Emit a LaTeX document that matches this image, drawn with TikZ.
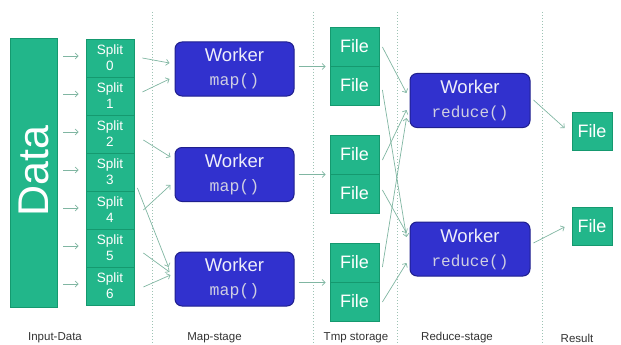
\documentclass[tikz,border=0pt]{standalone}
\usepackage{fontspec}
\setmainfont{Liberation Sans}
\newfontfamily\codefont{Liberation Mono}
\usetikzlibrary{arrows.meta,calc}
\definecolor{grn}{HTML}{22B68A}
\definecolor{grnd}{HTML}{15996F}
\definecolor{wblue}{HTML}{3131CE}
\definecolor{wbluedark}{HTML}{1F1F8E}
\definecolor{wtext}{HTML}{EEEEFA}
\definecolor{mtext}{HTML}{CFCFE2}
\definecolor{arrc}{HTML}{80B6A2}
\definecolor{dotc}{HTML}{9DC3B4}
\definecolor{labc}{HTML}{333333}
\begin{document}
\begin{tikzpicture}[x=1pt,y=-1pt,
  greenbox/.style={draw=grnd, fill=grn, line width=0.8pt, inner sep=0pt, text=white},
  databox/.style={greenbox, minimum width=47pt, minimum height=269pt},
  splitbox/.style={greenbox, minimum width=48pt, minimum height=38pt, align=center, font=\fontsize{13.5}{16}\selectfont},
  tmpfile/.style={greenbox, minimum width=49pt, minimum height=39pt, font=\fontsize{18}{20}\selectfont},
  resfile/.style={greenbox, minimum width=40pt, minimum height=38pt, font=\fontsize{18}{20}\selectfont},
  worker/.style={draw=wbluedark, fill=wblue, line width=1pt, rounded corners=7pt, minimum height=54pt, inner sep=0pt, align=center, text=wtext, font=\fontsize{18.5}{24}\selectfont},
  mapworker/.style={worker, minimum width=119pt},
  redworker/.style={worker, minimum width=120pt},
  arr/.style={draw=arrc, line width=0.7pt, -{Straight Barb[length=3pt,width=6pt]}},
  dots/.style={draw=dotc, line width=1pt, dash pattern=on 1pt off 2pt},
  lab/.style={text=labc, font=\fontsize{11.5}{13}\selectfont}
]
\useasboundingbox (0,0) rectangle (621,345);
% dotted stage separators
\foreach \xx in {152,313,397,542}{
  \draw[dots] (\xx,12) -- (\xx,345);
}
% data
\node[databox] (data) at (33.5,172.5) {};
\node[rotate=90, text=white, font=\fontsize{43}{45}\selectfont] (datatext) at (33.5,171) {Data};
% splits
\foreach \k in {0,...,6}{
  \node[splitbox] (s\k) at (110,{58+38*\k}) {Split\\\k};
}
% map workers
\node[mapworker] (m1) at (234.5,69) {Worker\\{\codefont\fontsize{16.5}{16}\selectfont\color{mtext}map()}};
\node[mapworker] (m2) at (234.5,174.5) {Worker\\{\codefont\fontsize{16.5}{16}\selectfont\color{mtext}map()}};
\node[mapworker] (m3) at (234.5,279) {Worker\\{\codefont\fontsize{16.5}{16}\selectfont\color{mtext}map()}};
% tmp files
\node[tmpfile] (t1) at (354.5,46.5) {File};
\node[tmpfile] (t2) at (354.5,85.5) {File};
\node[tmpfile] (t3) at (354.5,154.5) {File};
\node[tmpfile] (t4) at (354.5,193.5) {File};
\node[tmpfile] (t5) at (354.5,262.5) {File};
\node[tmpfile] (t6) at (354.5,301.5) {File};
% reduce workers
\node[redworker] (r1) at (470,100.5) {Worker\\{\codefont\fontsize{16}{16}\selectfont\color{mtext}reduce()}};
\node[redworker] (r2) at (470,249) {Worker\\{\codefont\fontsize{16}{16}\selectfont\color{mtext}reduce()}};
% results
\node[resfile] (f1) at (592,131) {File};
\node[resfile] (f2) at (592,226) {File};
% labels
\node[lab] (l1) at (55,338) {Input-Data};
\node[lab] (l2) at (214.5,338) {Map-stage};
\node[lab] (l3) at (356,338) {Tmp storage};
\node[lab] (l4) at (457,338) {Reduce-stage};
\node[lab] (l5) at (577,338) {Result};
% data -> splits
\foreach \k in {0,...,6}{
  \draw[arr] ([shift={(6,-2)}]data.east |- s\k.west) -- ([shift={(-7,-2)}]s\k.west);
}
% splits -> map workers
\draw[arr] ([shift={(8,0)}]s0.east) -- ([shift={(-5,-6)}]m1.west);
\draw[arr] ([shift={(8,-4)}]s1.east) -- ([shift={(-5,10)}]m1.west);
\draw[arr] ([shift={(9,6)}]s2.east) -- ([shift={(-4,-17.5)}]m2.west);
\draw[arr] ([shift={(3,16)}]s3.east) -- ([shift={(-6,-12)}]m3.west);
\draw[arr] ([shift={(9,0)}]s4.east) -- ([shift={(-4,10.5)}]m2.west);
\draw[arr] ([shift={(9,5)}]s5.east) -- ([shift={(-5,-7)}]m3.west);
\draw[arr] ([shift={(9,1)}]s6.east) -- ([shift={(-4,-4)}]m3.west);
% map workers -> tmp files
\draw[arr] ([xshift=4pt]m1.east |- t1.south west) -- ([xshift=-4pt]t1.south west);
\draw[arr] ([xshift=4pt]m2.east |- t3.south west) -- ([xshift=-4pt]t3.south west);
\draw[arr] ([xshift=4pt]m3.east |- t5.south west) -- ([xshift=-4pt]t5.south west);
% tmp files -> reduce workers
\draw[arr] ([shift={(3,0.5)}]t1.east) -- ([shift={(-3,-7.5)}]r1.west);
\draw[arr] ([shift={(3,4.5)}]t2.east) -- ([shift={(-3,-12)}]r2.west);
\draw[arr] ([shift={(3,5.5)}]t3.east) -- ([shift={(-3,9.5)}]r1.west);
\draw[arr] ([shift={(3,-3.5)}]t4.east) -- ([shift={(-3,-16)}]r2.west);
\draw[arr] ([shift={(3,4.5)}]t5.east) -- ([shift={(-3,17.5)}]r1.west);
\draw[arr] ([shift={(3,0.5)}]t6.east) -- ([shift={(-3,14)}]r2.west);
% reduce workers -> results
\draw[arr] ([shift={(3,-0.5)}]r1.east) -- ([shift={(-7,-3)}]f1.west);
\draw[arr] ([shift={(3,-6)}]r2.east) -- ([shift={(-7,1)}]f2.west);
\end{tikzpicture}
\end{document}
